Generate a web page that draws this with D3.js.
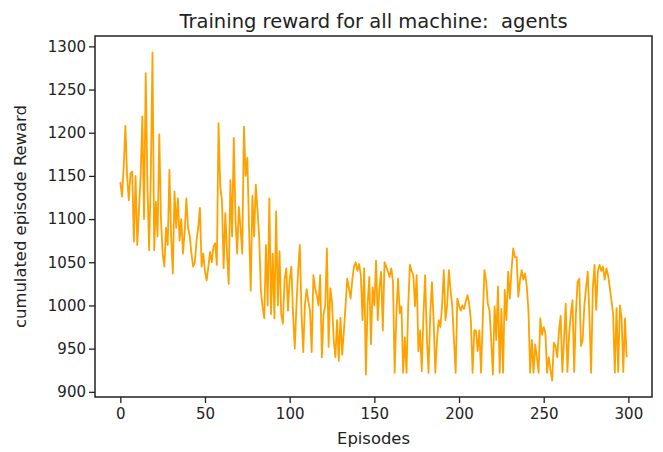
<!DOCTYPE html>
<html>
<head>
<meta charset="utf-8">
<script src="https://cdn.jsdelivr.net/npm/d3@7"></script>
<style>
  html, body { margin: 0; padding: 0; background: #fff; }
  svg { display: block; font-family: "DejaVu Sans", sans-serif; }
  text { white-space: pre; }
</style>
</head>
<body>
<svg id="chart" width="663" height="452"></svg>
<script>
// Cumulated reward per training episode (episodes 0..299)
const rewards = [
  1143, 1126, 1160, 1208, 1150, 1122, 1153, 1155, 1074, 1150,
  1070, 1110, 1150, 1219, 1100, 1269, 1140, 1064, 1150, 1293,
  1064, 1120, 1080, 1198, 1100, 1060, 1045, 1090, 1070, 1157,
  1080, 1037, 1132, 1090, 1124, 1075, 1100, 1060, 1085, 1124,
  1090, 1080, 1060, 1045, 1050, 1075, 1090, 1113, 1045, 1060,
  1039, 1029, 1045, 1062, 1050, 1068, 1072, 1047, 1211, 1138,
  1122, 1043, 1107, 1060, 1025, 1145, 1080, 1194, 1100, 1060,
  1114, 1090, 1060, 1207, 1150, 1171, 1090, 1017, 1127, 1080,
  1140, 1110, 1079, 1017, 998, 985, 1070, 1000, 1124, 990,
  1060, 985, 1109, 1000, 1063, 990, 979, 1030, 1043, 994,
  1030, 1045, 990, 950, 1000, 1040, 1070, 990, 946, 1000,
  1019, 1005, 994, 946, 1035, 1020, 1012, 1000, 1035, 940,
  990, 1000, 1066, 952, 1020, 1004, 960, 940, 983, 936,
  986, 943, 970, 1000, 1031, 1020, 1008, 1030, 1045, 1050,
  1040, 1048, 1035, 983, 1043, 920, 1000, 1033, 955, 1021,
  1000, 1052, 983, 1020, 1039, 971, 1050, 1045, 1039, 1033,
  1043, 1027, 922, 990, 1031, 991, 999, 922, 963, 922,
  1000, 1047, 1040, 1035, 999, 1035, 947, 971, 924, 990,
  1035, 963, 922, 990, 1027, 983, 922, 960, 983, 975,
  1000, 1041, 983, 1000, 1041, 1018, 999, 960, 922, 1008,
  1000, 994, 1000, 996, 1005, 1012, 1002, 983, 922, 971,
  971, 947, 971, 922, 983, 1041, 1029, 1002, 994, 960,
  920, 999, 960, 1022, 922, 996, 922, 1018, 983, 1039,
  1008, 1041, 1066, 1056, 1056, 1010, 1029, 1041, 1030, 1037,
  1022, 994, 922, 960, 922, 955, 940, 922, 985, 966,
  975, 968, 922, 940, 925, 913, 957, 953, 940, 970,
  988, 923, 960, 1002, 923, 966, 990, 1006, 923, 990,
  1027, 1031, 953, 960, 1000, 1020, 1039, 987, 922, 1020,
  1047, 995, 1040, 1047, 1040, 1045, 1030, 1043, 1035, 1021,
  1006, 990, 922, 997, 923, 1000, 985, 923, 985, 940
];
const episodes = rewards.map((_, i) => i);

const xTicks = [0, 50, 100, 150, 200, 250, 300];
const yTicks = [900, 950, 1000, 1050, 1100, 1150, 1200, 1250, 1300];

const titleText = "Training reward for all machine:  agents";
const xLabel = "Episodes";
const yLabel = "cumulated episode Reward";

const svg = d3.select("#chart");
const margin = { left: 95, right: 11, top: 36, bottom: 55 };
const W = 663, H = 452;

// data range padded by 5% on each side
const xPad = (d3.max(episodes) - d3.min(episodes)) * 0.05;
const yPad = (d3.max(rewards) - d3.min(rewards)) * 0.05;
const x = d3.scaleLinear()
  .domain([d3.min(episodes) - xPad, d3.max(episodes) + xPad])
  .range([margin.left, W - margin.right]);
const y = d3.scaleLinear()
  .domain([d3.min(rewards) - yPad, d3.max(rewards) + yPad])
  .range([H - margin.bottom, margin.top]);

// reward curve
svg.append("path")
  .datum(rewards)
  .attr("fill", "none")
  .attr("stroke", "#ffa200")
  .attr("stroke-width", 1.8)
  .attr("stroke-linejoin", "round")
  .attr("d", d3.line().x((d, i) => x(episodes[i])).y(d => y(d)));

// axes
const xAxis = svg.append("g")
  .attr("transform", `translate(0,${H - margin.bottom})`)
  .call(d3.axisBottom(x).tickValues(xTicks).tickFormat(d3.format("d"))
    .tickSize(6).tickPadding(5));
const yAxis = svg.append("g")
  .attr("transform", `translate(${margin.left},0)`)
  .call(d3.axisLeft(y).tickValues(yTicks).tickFormat(d3.format("d"))
    .tickSize(6).tickPadding(3));

[xAxis, yAxis].forEach(g => {
  g.select(".domain").remove();
  g.selectAll(".tick line").attr("stroke", "#222").attr("stroke-width", 1.3);
  g.selectAll(".tick text")
    .attr("fill", "#222")
    .style("font-family", "DejaVu Sans, sans-serif")
    .style("font-size", "15px");
});

// frame around plot area
svg.append("rect")
  .attr("x", margin.left)
  .attr("y", margin.top)
  .attr("width", W - margin.left - margin.right)
  .attr("height", H - margin.top - margin.bottom)
  .attr("fill", "none")
  .attr("stroke", "#222")
  .attr("stroke-width", 1.5);

// title and axis labels
svg.append("text")
  .attr("x", (margin.left + W - margin.right) / 2)
  .attr("y", 28)
  .attr("text-anchor", "middle")
  .attr("fill", "#222")
  .style("font-size", "19.5px")
  .text(titleText);

svg.append("text")
  .attr("x", (margin.left + W - margin.right) / 2)
  .attr("y", 444)
  .attr("text-anchor", "middle")
  .attr("fill", "#222")
  .style("font-size", "16.4px")
  .text(xLabel);

svg.append("text")
  .attr("transform", `translate(26,${(margin.top + H - margin.bottom) / 2}) rotate(-90)`)
  .attr("text-anchor", "middle")
  .attr("fill", "#222")
  .style("font-size", "16.4px")
  .text(yLabel);
</script>
</body>
</html>
